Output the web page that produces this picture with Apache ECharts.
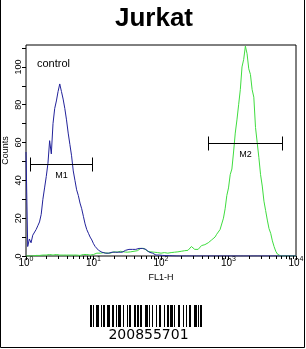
<!DOCTYPE html>
<html><head><meta charset="utf-8">
<script src="https://cdn.jsdelivr.net/npm/echarts@6/dist/echarts.min.js"></script>
<style>html,body{margin:0;padding:0;background:#fff;}#c{width:306px;height:349px;}</style>
</head><body><div id="c"></div>
<script>
const chartTitle = 'Jurkat';
const xAxisName = 'FL1-H';
const yAxisName = 'Counts';
const controlLabel = 'control';

// histogram bin centres, log10(FL1-H)
const binLog = [
0,0.025,0.05,0.075,0.1,0.125,0.15,0.175,0.2,0.225,
0.25,0.275,0.3,0.325,0.35,0.375,0.4,0.425,0.45,0.475,
0.5,0.525,0.55,0.575,0.6,0.625,0.65,0.675,0.7,0.725,
0.75,0.775,0.8,0.825,0.85,0.875,0.9,0.925,0.95,0.975,
1,1.025,1.05,1.075,1.1,1.125,1.15,1.175,1.2,1.225,
1.25,1.275,1.3,1.325,1.35,1.375,1.4,1.425,1.45,1.475,
1.5,1.525,1.55,1.575,1.6,1.625,1.65,1.675,1.7,1.725,
1.75,1.775,1.8,1.825,1.85,1.875,1.9,1.925,1.95,1.975,
2,2.025,2.05,2.075,2.1,2.125,2.15,2.175,2.2,2.225,
2.25,2.275,2.3,2.325,2.35,2.375,2.4,2.425,2.45,2.475,
2.5,2.525,2.55,2.575,2.6,2.625,2.65,2.675,2.7,2.725,
2.75,2.775,2.8,2.825,2.85,2.875,2.9,2.925,2.95,2.975,
3,3.025,3.05,3.075,3.1,3.125,3.15,3.175,3.2,3.225,
3.25,3.275,3.3,3.325,3.35,3.375,3.4,3.425,3.45,3.475,
3.5,3.525,3.55,3.575,3.6,3.625,3.65,3.675,3.7,3.725,
3.75,3.775,3.8,3.825,3.85,3.875,3.9,3.925,3.95,3.975,
4];

// control (blue) counts
const controlCounts = [
55,5,9,7,11,12,14,16,18,22,
30,36,42,49,61,54,70,78,82,87,
91,87,83,78,72,65,59,53,45,40,
35,32,28,25,21,17,14,12,10,8.5,
6.5,5,4.5,3,2.5,2,2.5,1.5,2,1.5,
1.5,2,1.5,2,2.5,2,2.5,2,2.5,3,
2.5,3.5,3,3.5,4,3.5,4.5,4,5,4,
5,3.5,3,2,1.5,1.5,1,0.5,0.8,0.5,
0.5,0.3,0.5,0.2,0.3,0.2,0.3,0.1,0.2,0,
0,0,0,0,0,0,0,0,0,0,
0,0,0,0,0,0,0,0,0,0,
0,0,0,0,0,0,0,0,0,0,
0,0,0,0,0,0,0,0,0,0,
0,0,0,0,0,0,0,0,0,0,
0,0,0,0,0,0,0,0,0,0,
0,0,0,0,0,0,0,0,0,0,
0];

// Jurkat sample (green) counts
const sampleCounts = [
0,0,0,0,0,0,0.3,0,0.3,0,
0.5,0.3,0.5,0.5,0.8,1.5,0.5,1.5,0.8,1.2,
0.5,0.3,0.5,0.3,0.5,0.3,0.5,0.3,0.5,0.3,
0.5,0.5,0.3,0.5,0.8,0.5,0.8,1.2,0.5,1.5,
0.8,1.2,1.5,1,1.5,1.2,1.8,1.2,1.5,2,
1.5,1.8,2.2,1.5,2,1.5,2.5,1.8,2.2,2.5,
2,2.8,2.2,3,2.5,3.2,2.8,3.5,4,3.2,
4,3,2.5,3,2.2,2.8,2,2.5,1.8,2.2,
1.5,2,1.8,2.3,1.5,2,1.8,2.5,2,2.8,
2.2,3,2.5,3.2,2.8,3.5,3,3.8,5,4.2,
3.5,4.5,3.5,4,5.5,4.5,6,5.5,7,7.5,
8.5,9.5,10,11.5,12.5,14,15,20,25,32,
36,43,46,55,65,72,80,88,100,104,
111,107,99,96,88,84,68,60,52,43,
37,29,24,19,14.5,12,8,5,2.5,1,
0.3,0,0,0,0,0,0,0,0,0,
0];

const xMinorTickValues = [2,3,4,5,6,7,8,9,20,30,40,50,60,70,80,90,
  200,300,400,500,600,700,800,900,2000,3000,4000,5000,6000,7000,8000,9000];

const gateNames = ['M1', 'M2'];
const gateStart = [1.13, 502];
const gateEnd = [9.6, 6270];
const gateLevel = [48.6, 59.6];

const barcodeText = '200855701';
const barcodeModules = '211232' + '112232' + '221132' + '131123' + '212123' + '311213' + '122312' + '213113' + '231212' + '2331112';

const FONT = 'Liberation Sans, Arial, sans-serif';
const BLUE = '#22229a';
const GREEN = '#3fdc3f';

const chart = echarts.init(document.getElementById('c'), null, {renderer: 'canvas'});

// barcode graphic
const barcodeChildren = [];
(function(){
  let total = 0;
  for (const ch of barcodeModules) total += +ch;
  const x0 = 90, w = 112, unit = w / total;
  let x = x0, bar = true;
  for (const ch of barcodeModules) {
    const mw = (+ch) * unit;
    if (bar) barcodeChildren.push({type:'rect', shape:{x:x, y:305, width:mw, height:22}, style:{fill:'#000'}});
    x += mw; bar = !bar;
  }
})();

const option = {
  animation: false,
  backgroundColor: '#fff',
  title: {
    text: chartTitle, left: 149, top: 1, textAlign: 'center',
    textStyle: {fontFamily: FONT, fontWeight: 'bold', fontSize: 26, color: '#000'}
  },
  grid: {left: 26, right: 10, top: 45, bottom: 93, containLabel: false, outerBoundsMode: 'none',
    show: true, borderColor: '#000', borderWidth: 1, backgroundColor: 'transparent'},
  xAxis: {
    type: 'log', logBase: 10, min: 1, max: 10000, splitNumber: 4,
    name: xAxisName, nameLocation: 'middle', nameGap: 17, nameMoveOverlap: false,
    nameTextStyle: {fontFamily: FONT, fontSize: 9, color: '#000'},
    axisLine: {show: false},
    axisTick: {show: true, length: 4, lineStyle: {color: '#000'}},
    splitLine: {show: false},
    axisLabel: {
      margin: 0, color: '#000', hideOverlap: false,
      formatter: v => '{b|10}{s|' + Math.round(Math.log10(v)) + '}',
      rich: {
        b: {fontFamily: FONT, fontSize: 10, lineHeight: 10, padding: [4,0,0,0], color: '#000'},
        s: {fontFamily: FONT, fontSize: 7, lineHeight: 7, verticalAlign: 'top', color: '#000'}
      }
    }
  },
  yAxis: {
    type: 'value', min: 0, max: 111.6, interval: 10,
    name: yAxisName, nameLocation: 'middle', nameGap: 16, nameRotate: 90, nameMoveOverlap: false,
    nameTextStyle: {fontFamily: FONT, fontSize: 9, color: '#000'},
    axisLine: {show: false},
    axisTick: {show: true, length: 4, lineStyle: {color: '#000'}},
    splitLine: {show: false},
    axisLabel: {
      rotate: 90, margin: 3, fontFamily: FONT, fontSize: 9, color: '#000', showMaxLabel: false,
      formatter: v => (Math.round(v) % 20 === 0 ? String(Math.round(v)) : '')
    }
  },
  graphic: [
    {type: 'text', left: 37, top: 58, style: {text: controlLabel, font: '11px ' + FONT, fill: '#000'}},
    {type: 'group', children: barcodeChildren},
    {type: 'text', x: 148.5, y: 328, style: {text: barcodeText, font: '14px DejaVu Sans', fill: '#000', align: 'center', verticalAlign: 'top'}},
    {type: 'polyline', shape: {points: [[0.5,0],[0.5,347.5],[304.5,347.5],[304.5,0]]}, style: {stroke: '#000', lineWidth: 1, fill: null}}
  ],
  series: [
    {
      name: 'sample', type: 'line', showSymbol: false, symbol: 'none',
      data: binLog.map((e, i) => [Math.pow(10, e), sampleCounts[i]]),
      lineStyle: {color: GREEN, width: 1}, z: 2
    },
    {
      name: 'control', type: 'line', showSymbol: false, symbol: 'none',
      data: binLog.map((e, i) => [Math.pow(10, e), controlCounts[i]]),
      lineStyle: {color: BLUE, width: 1}, z: 3
    },
    {
      name: 'xMinorTicks', type: 'custom', clip: false, silent: true, z: 4,
      data: xMinorTickValues.map(v => [v, 0]),
      renderItem: (params, api) => {
        const p = api.coord([api.value(0), 0]);
        const x = Math.round(p[0]) + 0.5;
        return {type: 'line', shape: {x1: x, y1: p[1], x2: x, y2: p[1] + 3}, style: {stroke: '#000', lineWidth: 1}};
      }
    },
    {
      name: 'gates', type: 'custom', clip: false, silent: true, z: 5,
      data: gateNames.map((n, i) => [gateStart[i], gateEnd[i], gateLevel[i]]),
      encode: {x: [0, 1], y: 2},
      renderItem: (params, api) => {
        const a = api.coord([api.value(0), api.value(2)]);
        const b = api.coord([api.value(1), api.value(2)]);
        const y = Math.round(a[1]) + 0.5;
        const x1 = Math.round(a[0]) + 0.5, x2 = Math.round(b[0]) + 0.5;
        const st = {stroke: '#000', lineWidth: 1};
        return {type: 'group', children: [
          {type: 'line', shape: {x1: x1, y1: y, x2: x2, y2: y}, style: st},
          {type: 'line', shape: {x1: x1, y1: y - 7, x2: x1, y2: y + 7}, style: st},
          {type: 'line', shape: {x1: x2, y1: y - 7, x2: x2, y2: y + 7}, style: st},
          {type: 'text', style: {text: gateNames[params.dataIndex], x: (x1 + x2) / 2, y: y + 7, align: 'center', verticalAlign: 'top', font: '9px ' + FONT, fill: '#000'}}
        ]};
      }
    }
  ]
};
chart.setOption(option);
</script>
</body></html>
